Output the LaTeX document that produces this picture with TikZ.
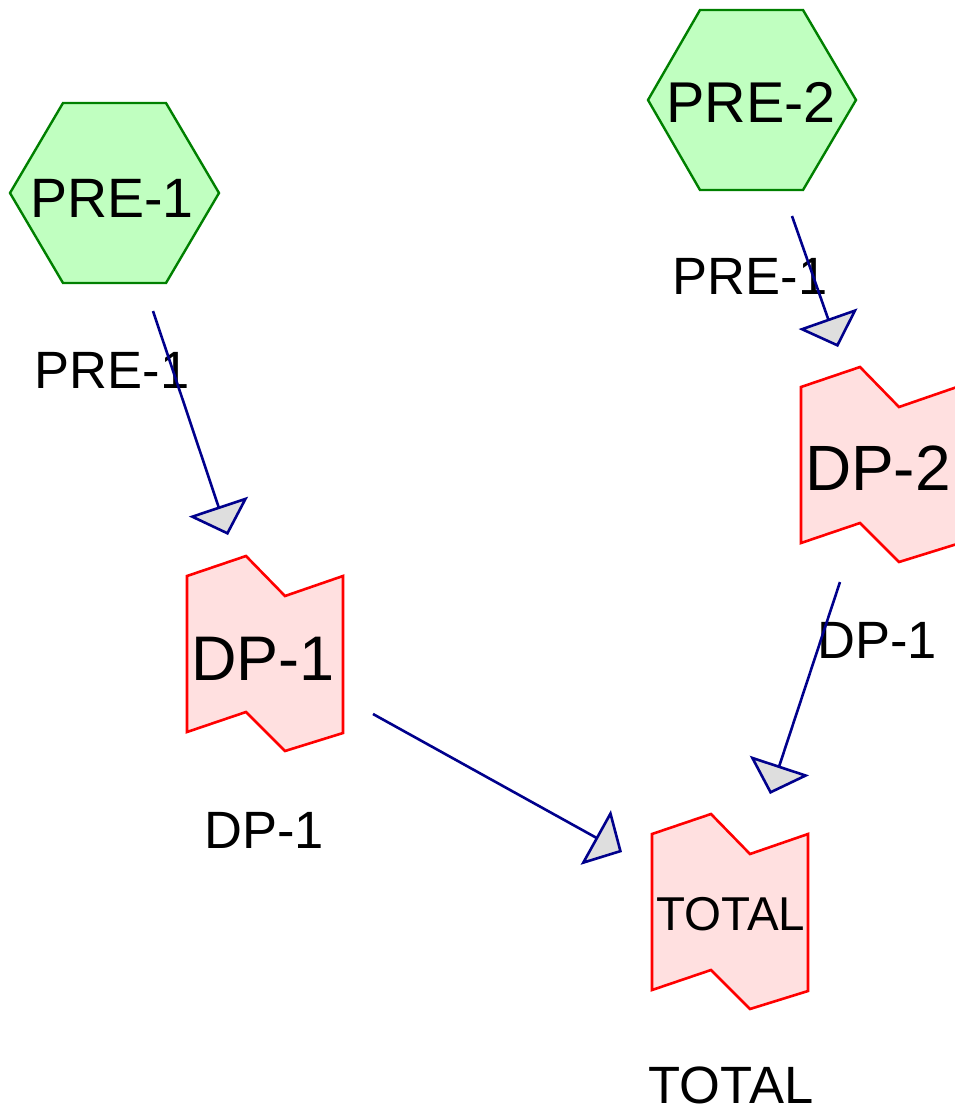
\documentclass[tikz,border=0pt]{standalone}
\usepackage{fontspec}
\setmainfont{Liberation Sans}
\usetikzlibrary{arrows.meta}
\definecolor{edgeblue}{RGB}{0,0,140}
\definecolor{hexfill}{RGB}{192,255,192}
\definecolor{hexline}{RGB}{0,128,0}
\definecolor{dpfill}{RGB}{255,224,224}
\definecolor{tipfill}{RGB}{222,222,222}
\tikzset{
  hexshape/.style={draw=hexline, fill=hexfill, line width=2.4pt, line join=miter},
  dpshape/.style={draw=red, fill=dpfill, line width=2.6pt, line join=miter},
  conn/.style={draw=edgeblue, line width=2.6pt,
    -{Triangle[length=30pt, width=62pt, fill=tipfill, line join=miter]}},
  lbl/.style={font=\fontsize{52.5}{62}\selectfont, anchor=base, inner sep=0pt},
  intext/.style={anchor=base, inner sep=0pt}
}
\newcommand{\dpoutline}[2]{%
  \path[dpshape] (#1,#2) -- ++(59,-20) -- ++(39,40) -- ++(58,-20) -- ++(0,157)
    -- ++(-58,18) -- ++(-39,-39) -- ++(-59,20) -- cycle;}
\begin{document}
\begin{tikzpicture}[x=1pt,y=-1pt]
\useasboundingbox (0,0) rectangle (954,1112);
% hexagons
\path[hexshape] (10,193) -- (63,103) -- (166,103) -- (219,193) -- (166,283) -- (63,283) -- cycle;
\path[hexshape] (648,100) -- (700,10) -- (803,10) -- (856,100) -- (803,190) -- (700,190) -- cycle;
% DP shapes
\dpoutline{187}{576}
\dpoutline{801}{387}
\dpoutline{652}{834}
% node texts
\node[intext, font=\fontsize{55.5}{66}\selectfont] (pre1) at (112,217) {PRE-1};
\node[intext, font=\fontsize{57.5}{68}\selectfont] (pre2) at (751,122) {PRE-2};
\node[intext, font=\fontsize{63}{74}\selectfont] (dp1) at (263,680) {DP-1};
\node[intext, font=\fontsize{64}{75}\selectfont] (dp2) at (878,490) {DP-2};
\node[intext, font=\fontsize{47.5}{56}\selectfont] (total) at (731,930) {TOTAL};
% labels
\node[lbl] (pre1l) at (112,388) {PRE-1};
\node[lbl] (pre2l) at (750,294) {PRE-1};
\node[lbl] (dp1l) at (264,848) {DP-1};
\node[lbl] (dp2l) at (877,658) {DP-1};
\node[lbl] (totall) at (731,1103) {TOTAL};
% connector ends
\coordinate (a1s) at (153,311);
\coordinate (a1e) at (228,535);
\coordinate (a2s) at (792,216);
\coordinate (a2e) at (838,347);
\coordinate (a3s) at (840,582);
\coordinate (a3e) at (770,794);
\coordinate (a4s) at (373,714);
\coordinate (a4e) at (622,852);
\draw[conn] (a1s) -- (a1e);
\draw[conn] (a2s) -- (a2e);
\draw[conn] (a3s) -- (a3e);
\draw[conn] (a4s) -- (a4e);
\end{tikzpicture}
\end{document}
